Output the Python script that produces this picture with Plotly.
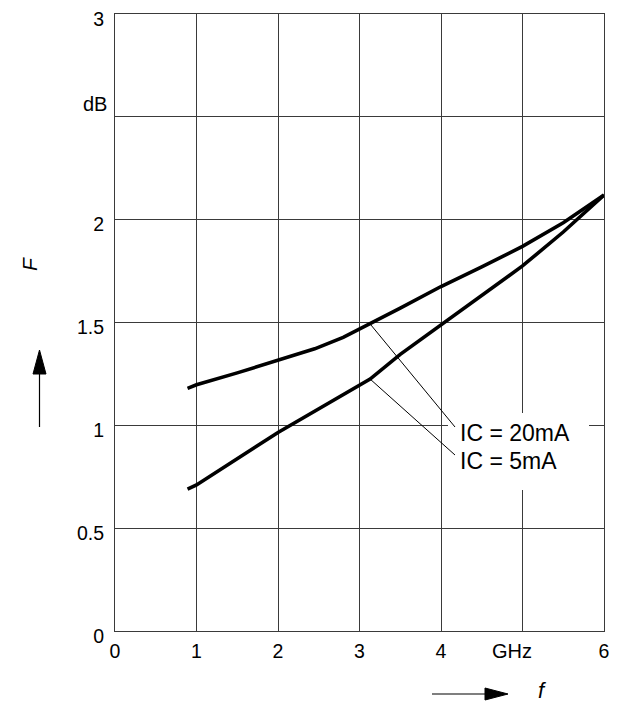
import plotly.graph_objects as go

# Data
f_20mA = [0.89, 1.0, 1.5, 2.0, 2.45, 2.8, 3.13, 3.5, 4.0, 4.5, 5.0, 5.5, 6.0]
F_20mA = [1.18, 1.197, 1.255, 1.318, 1.372, 1.428, 1.493, 1.57, 1.675, 1.77, 1.87, 1.985, 2.12]
f_5mA = [0.89, 1.0, 2.0, 3.13, 3.5, 4.0, 4.5, 5.0, 5.5, 6.0]
F_5mA = [0.69, 0.71, 0.965, 1.225, 1.345, 1.49, 1.63, 1.775, 1.94, 2.12]

x_ticks = [0, 1, 2, 3, 4, 5, 6]
x_ticktext = ["0", "1", "2", "3", "4", "", "6"]
y_ticks = [0, 0.5, 1, 1.5, 2, 2.5, 3]
y_ticktext = ["0", "0.5", "1", "1.5", "2", "", "3"]

FONT = "Liberation Sans, Arial, sans-serif"
OFF = 8  # page body margin
W, H = 626 - OFF, 704 - OFF
L, R, T, B = 115 - OFF, 22, 14 - OFF, 73
PW, PH = W - L - R, H - T - B


def px_to_paper(px, py):
    px -= OFF
    py -= OFF
    return (px - L) / PW, (H - B - py) / PH


def px_to_data(px, py):
    x, y = px_to_paper(px, py)
    return x * 6.0, y * 3.0


fig = go.Figure()
fig.add_trace(go.Scatter(x=f_20mA, y=F_20mA, mode="lines", line=dict(color="black", width=3.6), showlegend=False))
fig.add_trace(go.Scatter(x=f_5mA, y=F_5mA, mode="lines", line=dict(color="black", width=3.6), showlegend=False))

shapes = []
# white box behind labels (breaks the grid)
x0, y0 = px_to_data(448, 490)
x1, y1 = px_to_data(589, 413)
shapes.append(dict(type="rect", xref="x", yref="y", x0=x0, y0=y0, x1=x1, y1=y1,
                   fillcolor="white", line=dict(width=0), layer="between"))
# leader lines
for (sx, sy), (ex, ey) in [((3.13, 1.493), px_to_data(455, 427)), ((3.13, 1.225), px_to_data(455, 455))]:
    shapes.append(dict(type="line", xref="x", yref="y", x0=sx, y0=sy, x1=ex, y1=ey,
                       line=dict(color="black", width=1), layer="above"))

# axis arrows (paper coords outside plot)
ax0, ay0 = px_to_paper(39.5, 427)
ax1, ay1 = px_to_paper(39.5, 372)
shapes.append(dict(type="line", xref="paper", yref="paper", x0=ax0, y0=ay0, x1=ax1, y1=ay1,
                   line=dict(color="black", width=1.2)))
tip = px_to_paper(39.5, 350)
bl = px_to_paper(33, 374)
br = px_to_paper(46, 374)
shapes.append(dict(type="path", xref="paper", yref="paper",
                   path=f"M {tip[0]} {tip[1]} L {bl[0]} {bl[1]} L {br[0]} {br[1]} Z",
                   fillcolor="black", line=dict(color="black", width=1)))

hx0, hy0 = px_to_paper(432, 694)
hx1, hy1 = px_to_paper(487, 694)
shapes.append(dict(type="line", xref="paper", yref="paper", x0=hx0, y0=hy0, x1=hx1, y1=hy1,
                   line=dict(color="black", width=1.2)))
tip = px_to_paper(508, 694)
bt = px_to_paper(485, 688)
bb = px_to_paper(485, 700)
shapes.append(dict(type="path", xref="paper", yref="paper",
                   path=f"M {tip[0]} {tip[1]} L {bt[0]} {bt[1]} L {bb[0]} {bb[1]} Z",
                   fillcolor="black", line=dict(color="black", width=1)))

annotations = []
lx, ly = px_to_data(458, 433)
annotations.append(dict(x=lx, y=ly, xref="x", yref="y", text="IC = 20mA", showarrow=False,
                        xanchor="left", yanchor="middle", font=dict(family=FONT, size=23, color="black")))
lx, ly = px_to_data(458, 461)
annotations.append(dict(x=lx, y=ly, xref="x", yref="y", text="IC = 5mA", showarrow=False,
                        xanchor="left", yanchor="middle", font=dict(family=FONT, size=23, color="black")))
# unit labels
px_, py_ = px_to_paper(109, 104)
annotations.append(dict(x=px_, y=py_, xref="paper", yref="paper", text="dB", showarrow=False,
                        xanchor="right", yanchor="middle", font=dict(family=FONT, size=20, color="black")))
px_, py_ = px_to_paper(512, 651)
annotations.append(dict(x=px_, y=py_, xref="paper", yref="paper", text="GHz", showarrow=False,
                        xanchor="center", yanchor="middle", font=dict(family=FONT, size=20, color="black")))
# axis symbols
px_, py_ = px_to_paper(29, 264)
annotations.append(dict(x=px_, y=py_, xref="paper", yref="paper", text="<i>F</i>", showarrow=False,
                        textangle=-90, xanchor="center", yanchor="middle", font=dict(family=FONT, size=21, color="black")))
px_, py_ = px_to_paper(542, 690)
annotations.append(dict(x=px_, y=py_, xref="paper", yref="paper", text="<i>f</i>", showarrow=False,
                        xanchor="center", yanchor="middle", font=dict(family=FONT, size=22, color="black")))

grid = dict(showgrid=True, gridcolor="#3a3a3a", gridwidth=1, zeroline=False,
            showline=True, linecolor="#3a3a3a", linewidth=1, mirror=True, automargin=False,
            ticks="", tickfont=dict(family=FONT, size=19.5, color="black"),
            ticklabeloverflow="allow")

fig.update_layout(
    width=W, height=H, margin=dict(l=L, r=R, t=T, b=B, pad=0, autoexpand=False),
    paper_bgcolor="white", plot_bgcolor="white",
    xaxis=dict(range=[0, 6], tickmode="array", tickvals=x_ticks, ticktext=x_ticktext,
               ticklabelstandoff=3, **grid),
    yaxis=dict(range=[0, 3], tickmode="array", tickvals=y_ticks, ticktext=y_ticktext,
               ticklabelstandoff=6, ticklabelshift=5, **grid),
    shapes=shapes, annotations=annotations, showlegend=False,
)

fig.write_html("out.html")
